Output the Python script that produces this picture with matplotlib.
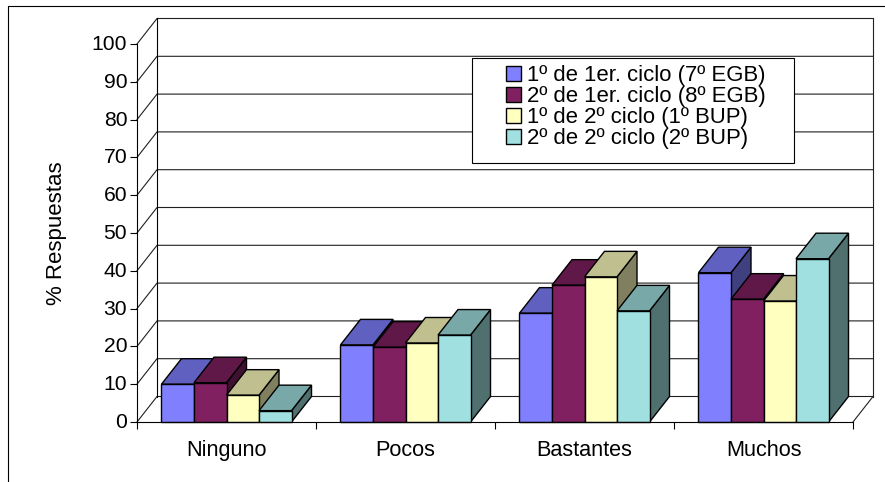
import numpy as np
import matplotlib
matplotlib.use('Agg')
import matplotlib.pyplot as plt
from matplotlib.patches import Patch, Polygon, Rectangle
from matplotlib.transforms import ScaledTranslation

plt.rcParams['font.family'] = ['Liberation Sans', 'DejaVu Sans']

categories = ['Ninguno', 'Pocos', 'Bastantes', 'Muchos']
series_names = ['1º de 1er. ciclo (7º EGB)', '2º de 1er. ciclo (8º EGB)',
                '1º de 2º ciclo (1º BUP)', '2º de 2º ciclo (2º BUP)']
s1 = [10.0, 20.4, 28.8, 39.5]
s2 = [10.4, 19.8, 36.2, 32.5]
s3 = [7.1, 20.9, 38.4, 32.0]
s4 = [3.0, 23.0, 29.4, 43.2]
y_ticks = list(range(0, 101, 10))

front_colors = ['#8080FF', '#802060', '#FFFFC0', '#A0E0E0']
top_colors = ['#6060C0', '#601848', '#BFBF90', '#78A8A8']
side_colors = ['#404080', '#401030', '#808060', '#507070']

W, H = 885, 482
fig = plt.figure(figsize=(W/100, H/100), dpi=100)
# front plane of the 3d box, pixels from the reference
ax = fig.add_axes([137/W, 1-422/H, 716/W, 378/H])
ax.set_xlim(0, 4)
ax.set_ylim(0, 100)
ax.patch.set_visible(False)

# depth of the fake 3d, in data units
dx = 20/179
dy = 25.5/3.78
bar_w = 0.1816
wall = '#202020'

for v in y_ticks:
    ax.plot([0, dx, 4+dx], [v, v+dy, v+dy], color=wall, lw=0.8, clip_on=False, zorder=1)
ax.plot([dx, dx], [dy, 100+dy], color='black', lw=0.8, clip_on=False, zorder=1)
ax.plot([4+dx, 4+dx], [dy, 100+dy], color=wall, lw=0.8, clip_on=False, zorder=1)
ax.plot([4, 4+dx], [0, dy], color=wall, lw=0.8, clip_on=False, zorder=1)


def draw_bar(x, v, i, z):
    front = [(x, 0), (x+bar_w, 0), (x+bar_w, v), (x, v)]
    top = [(x, v), (x+bar_w, v), (x+bar_w+dx, v+dy), (x+dx, v+dy)]
    side = [(x+bar_w, 0), (x+bar_w+dx, dy), (x+bar_w+dx, v+dy), (x+bar_w, v)]
    for pts, col in [(side, side_colors[i]), (top, top_colors[i]), (front, front_colors[i])]:
        ax.add_patch(Polygon(pts, closed=True, facecolor=col, edgecolor='black',
                             lw=1.0, joinstyle='miter', clip_on=False, zorder=z))


z = 2
for c in range(len(categories)):
    for i, s in enumerate([s1, s2, s3, s4]):
        draw_bar(c + 0.5 + (i-2)*bar_w, s[c], i, z)
        z += 0.01

ax.spines['top'].set_visible(False)
ax.spines['right'].set_visible(False)
ax.spines['left'].set_linewidth(0.8)
ax.spines['bottom'].set_linewidth(0.8)
ax.spines['left'].set_zorder(6)
ax.spines['bottom'].set_zorder(6)

ax.set_yticks(y_ticks)
ax.set_xticks(np.arange(0, 5))
ax.set_xticklabels([])
ax.set_xticks(np.arange(4)+0.5, minor=True)
ax.set_xticklabels(categories, minor=True, fontsize=15.6)
ax.tick_params(axis='x', which='major', length=5, width=0.8)
ax.tick_params(axis='x', which='minor', length=0, pad=13)
ax.tick_params(axis='y', length=5, width=0.8, labelsize=15.2, pad=2)
# reference tick labels sit a little above their ticks
up = ScaledTranslation(0, 1.5/100, fig.dpi_scale_trans)
for lab in ax.get_yticklabels():
    lab.set_transform(lab.get_transform() + up)
ax.set_ylabel('% Respuestas', fontsize=16)
ax.yaxis.set_label_coords((67-137)/716, 0.5)

# legend: white box plus frameless legend so the rows stay at the top of the box
ax.add_patch(Rectangle((472/W, 1-163/H), 322/W, 105/H, transform=fig.transFigure,
                       facecolor='white', edgecolor='black', lw=0.8, clip_on=False, zorder=1.5))
handles = [Patch(facecolor=front_colors[i], edgecolor='black', lw=1.0) for i in range(4)]
leg = ax.legend(handles, series_names, loc='upper left', frameon=False,
                bbox_to_anchor=(506/W, 1-65/H), bbox_transform=fig.transFigure,
                fontsize=15.9, borderpad=0, borderaxespad=0, labelspacing=0.0,
                handlelength=0.66, handleheight=0.66, handletextpad=0.3)
leg.set_zorder(1.6)

# outer chart frame, cut at the right and bottom of the picture
fig.add_artist(plt.Line2D([8/W, 8/W, 1], [0, 1-6/H, 1-6/H], color='black', lw=0.8))

fig.savefig('out.png', dpi=100)
